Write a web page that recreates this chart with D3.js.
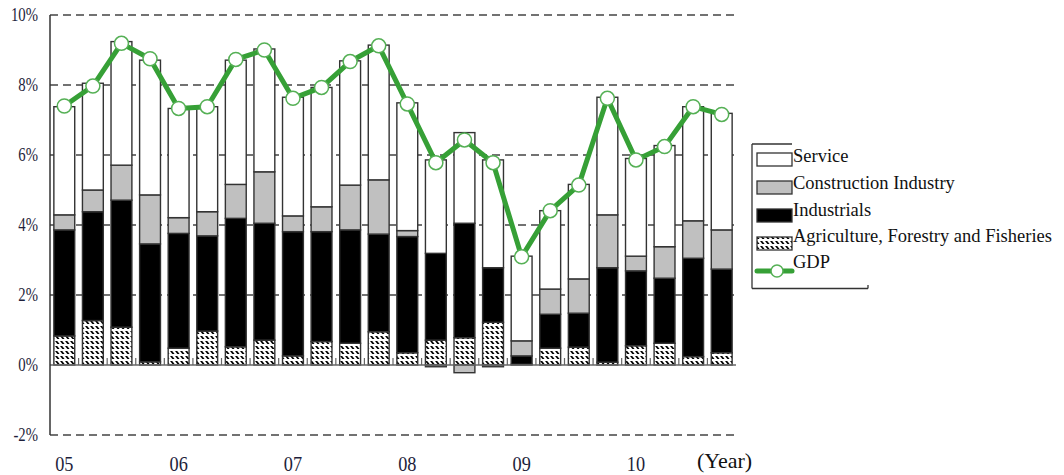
<!DOCTYPE html>
<html>
<head>
<meta charset="utf-8">
<script src="https://cdn.jsdelivr.net/npm/d3@7"></script>
<style>
  html, body { margin: 0; padding: 0; background: #fff; }
  svg { display: block; font-family: "Liberation Serif", "Times New Roman", serif; }
</style>
</head>
<body>
<svg id="chart" width="1064" height="475"></svg>
<script>
// Quarterly contributions to real GDP growth (percentage points), 2005Q1–2010Q4
const quarters = ["05Q1","05Q2","05Q3","05Q4","06Q1","06Q2","06Q3","06Q4",
                  "07Q1","07Q2","07Q3","07Q4","08Q1","08Q2","08Q3","08Q4",
                  "09Q1","09Q2","09Q3","09Q4","10Q1","10Q2","10Q3","10Q4"];
const agriculture = [0.83,1.27,1.08,0.09,0.48,0.97,0.52,0.71,0.26,0.67,0.62,0.95,
                     0.35,0.71,0.78,1.22,0.02,0.48,0.51,0.08,0.55,0.62,0.24,0.35];
const industrials = [3.03,3.11,3.63,3.37,3.28,2.72,3.67,3.34,3.55,3.14,3.24,2.79,
                     3.32,2.48,3.27,1.56,0.24,0.97,0.97,2.70,2.14,1.86,2.81,2.39];
const construction = [0.43,0.62,1.00,1.40,0.45,0.69,0.97,1.47,0.45,0.71,1.28,1.55,
                      0.17,-0.05,-0.22,-0.05,0.43,0.72,0.98,1.51,0.42,0.90,1.07,1.12];
const service = [3.09,3.05,3.53,3.85,3.12,3.00,3.55,3.51,3.39,3.41,3.55,3.85,
                 3.65,2.67,2.59,3.08,2.42,2.24,2.70,3.36,2.79,2.89,3.26,3.33];
const gdp = [7.40,7.97,9.19,8.75,7.33,7.38,8.73,9.00,7.62,7.93,8.67,9.12,
             7.46,5.78,6.43,5.78,3.09,4.41,5.14,7.62,5.86,6.24,7.38,7.16];
const yTicks = [-2, 0, 2, 4, 6, 8, 10];
const yearQuarters = ["05Q1","06Q1","07Q1","08Q1","09Q1","10Q1"];
const yearLabels = ["05","06","07","08","09","10"];

const svg = d3.select("#chart");
const plotL = 50, plotR = 736, plotT = 15, plotB = 435;
const green = "#36a036";

const rows = quarters.map((q, i) => ({
  q, agriculture: agriculture[i], industrials: industrials[i],
  construction: construction[i], service: service[i], gdp: gdp[i]
}));

const x = d3.scaleBand().domain(quarters).range([plotL, plotR]).paddingInner(0.27).paddingOuter(0.135);
const xEdge = d3.scaleBand().domain(quarters).range([plotL, plotR]);
const y = d3.scaleLinear().domain([-2, 10]).range([plotB, plotT]);

// zigzag hatch for agriculture: rows of slanted strokes separated by thin white lines
const defs = svg.append("defs");
const pat = defs.append("pattern").attr("id", "agri").attr("patternUnits", "userSpaceOnUse")
  .attr("width", 5).attr("height", 5);
pat.append("rect").attr("width", 5).attr("height", 5).attr("fill", "#fff");
pat.append("path").attr("d", "M0,0.9 L2.2,0.9 L4.6,4.1 L2.4,4.1 Z").attr("fill", "#000");

// dashed gridlines (zero line drawn separately)
svg.append("g").selectAll("line").data(yTicks.filter(d => d !== 0)).join("line")
  .attr("x1", plotL).attr("x2", plotR)
  .attr("y1", d => y(d)).attr("y2", d => y(d))
  .attr("stroke", "#444").attr("stroke-width", 1.3).attr("stroke-dasharray", "8,5");

// y-axis labels
svg.append("g").selectAll("text").data(yTicks).join("text")
  .attr("transform", d => `translate(38,${y(d) + 6}) scale(0.82,1)`)
  .attr("text-anchor", "end").attr("font-size", 18).attr("fill", "#1e1e3a")
  .text(d => d + "%");

// stacked bars
const keys = ["agriculture", "industrials", "construction", "service"];
const fills = { agriculture: "url(#agri)", industrials: "#000", construction: "#c0c0c0", service: "#fff" };
const stacked = d3.stack().keys(keys).offset(d3.stackOffsetDiverging)(rows);

svg.append("g").selectAll("g").data(stacked).join("g")
  .attr("fill", d => fills[d.key])
  .selectAll("rect").data(d => d).join("rect")
  .attr("x", d => x(d.data.q))
  .attr("width", x.bandwidth())
  .attr("y", d => y(Math.max(d[0], d[1])))
  .attr("height", d => Math.abs(y(d[0]) - y(d[1])))
  .attr("stroke", "#333").attr("stroke-width", 1.4);

// zero line and x ticks
svg.append("line").attr("x1", plotL).attr("x2", plotR).attr("y1", y(0)).attr("y2", y(0))
  .attr("stroke", "#666").attr("stroke-width", 1.6);
svg.append("g").selectAll("line").data(quarters.slice(1)).join("line")
  .attr("x1", d => xEdge(d)).attr("x2", d => xEdge(d))
  .attr("y1", y(0)).attr("y2", y(0) - 7)
  .attr("stroke", "#666").attr("stroke-width", 1.2);

// left axis
svg.append("line").attr("x1", plotL).attr("x2", plotL).attr("y1", plotT).attr("y2", plotB)
  .attr("stroke", "#333").attr("stroke-width", 1.5);

// x labels
svg.append("g").selectAll("text").data(yearQuarters).join("text")
  .attr("transform", d => `translate(${x(d) + x.bandwidth() / 2},471) scale(0.87,1)`)
  .attr("text-anchor", "middle").attr("font-size", 21).attr("fill", "#1e1e3a")
  .text((d, i) => yearLabels[i]);
svg.append("text").attr("x", 697).attr("y", 468).attr("font-size", 22).attr("fill", "#111").text("(Year)");

// GDP line
const line = d3.line().x(d => x(d.q) + x.bandwidth() / 2).y(d => y(d.gdp));
svg.append("path").datum(rows).attr("d", line).attr("fill", "none")
  .attr("stroke", green).attr("stroke-width", 5).attr("stroke-linejoin", "round");
svg.append("g").selectAll("circle").data(rows).join("circle")
  .attr("cx", d => x(d.q) + x.bandwidth() / 2).attr("cy", d => y(d.gdp)).attr("r", 7)
  .attr("fill", "#fff").attr("stroke", "#55b055").attr("stroke-width", 1.5);

// legend
const lg = svg.append("g");
lg.append("line").attr("x1", 752).attr("x2", 752).attr("y1", 144).attr("y2", 288.5).attr("stroke", "#333").attr("stroke-width", 1.3);
lg.append("line").attr("x1", 752).attr("x2", 792).attr("y1", 144).attr("y2", 144).attr("stroke", "#333").attr("stroke-width", 1.3);
lg.append("line").attr("x1", 752).attr("x2", 868).attr("y1", 288.5).attr("y2", 288.5).attr("stroke", "#333").attr("stroke-width", 1.3);
lg.append("line").attr("x1", 868).attr("x2", 868).attr("y1", 288.5).attr("y2", 285).attr("stroke", "#333").attr("stroke-width", 1.3);

const legendItems = [
  { label: "Service", fill: "#fff", y: 153, base: 162 },
  { label: "Construction Industry", fill: "#c0c0c0", y: 181, base: 189 },
  { label: "Industrials", fill: "#000", y: 209, base: 216 },
  { label: "Agriculture, Forestry and Fisheries", fill: "url(#agri)", y: 237, base: 242 }
];
legendItems.forEach(it => {
  lg.append("rect").attr("x", 757).attr("y", it.y).attr("width", 35).attr("height", 13)
    .attr("fill", it.fill).attr("stroke", "#333").attr("stroke-width", 1.3);
  lg.append("text").attr("x", 793).attr("y", it.base).attr("font-size", 18.5).attr("fill", "#111").text(it.label);
});
lg.append("line").attr("x1", 757).attr("x2", 792).attr("y1", 271).attr("y2", 271)
  .attr("stroke", green).attr("stroke-width", 5).attr("stroke-linecap", "round");
lg.append("circle").attr("cx", 777).attr("cy", 271).attr("r", 6)
  .attr("fill", "#fff").attr("stroke", "#55b055").attr("stroke-width", 1.5);
lg.append("text").attr("x", 793).attr("y", 268).attr("font-size", 18.5).attr("fill", "#111").text("GDP");
</script>
</body>
</html>
